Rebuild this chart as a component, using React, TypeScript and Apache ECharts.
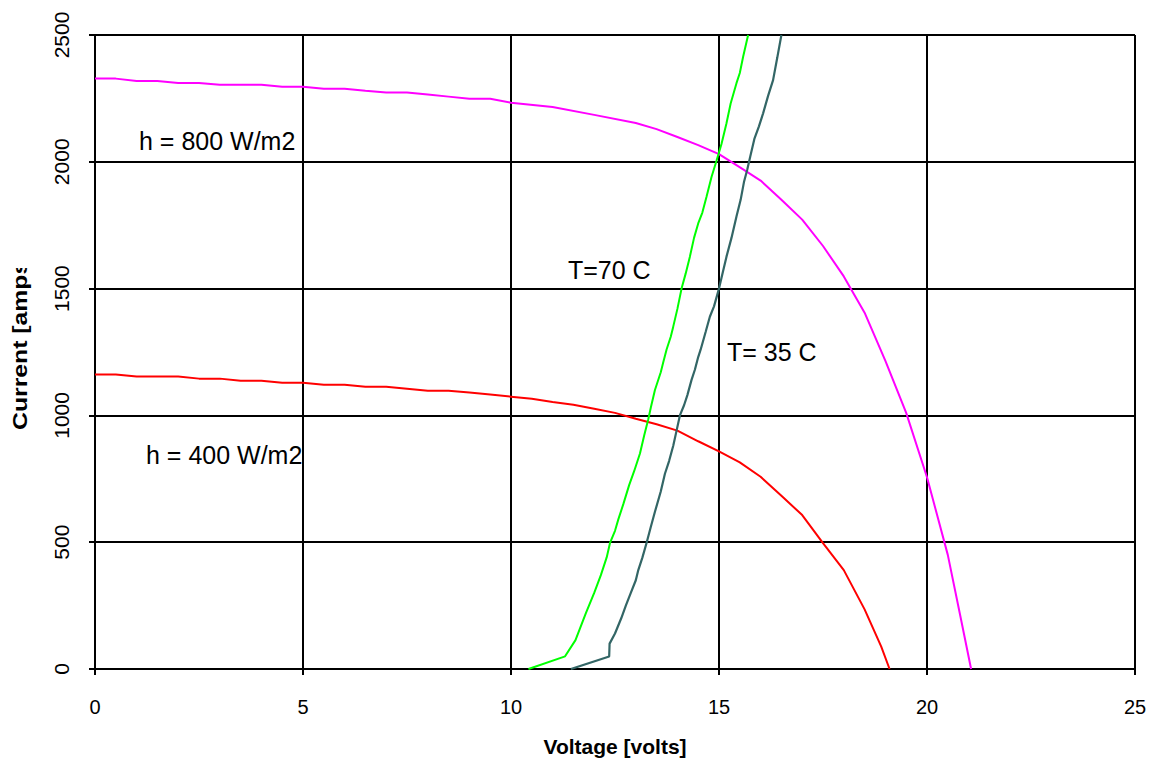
import React, { useEffect, useRef } from "react";
import * as echarts from "echarts";

// Voltage [volts], Current [amps]
const h800T35: [number, number][] = [
  [0, 2328], [0.5, 2328], [1, 2319], [1.5, 2319], [2, 2311], [2.5, 2311], [3, 2304], [4, 2304],
  [4.5, 2296], [5, 2296], [5.5, 2288], [6, 2288], [6.5, 2280], [7, 2273], [7.5, 2273], [8, 2265],
  [8.5, 2257], [9, 2249], [9.5, 2249], [10, 2233], [11, 2216], [12, 2185], [13, 2153], [13.5, 2129],
  [14, 2098], [14.5, 2066], [15, 2030], [15.6, 1968], [16, 1926], [16.5, 1850], [17, 1772],
  [17.5, 1668], [18, 1548], [18.5, 1405], [19, 1215], [19.5, 1010], [20, 756], [20.5, 450],
  [20.8, 210], [21.06, 0],
];

const h400T35: [number, number][] = [
  [0, 1161], [0.5, 1161], [1, 1153], [2, 1153], [2.5, 1145], [3, 1145], [3.5, 1137], [4, 1137],
  [4.5, 1129], [5, 1129], [5.5, 1121], [6, 1121], [6.5, 1113], [7, 1113], [7.5, 1105], [8, 1097],
  [8.5, 1097], [9, 1090], [9.5, 1082], [10, 1074], [10.5, 1066], [11, 1053], [11.5, 1042],
  [12, 1026], [12.5, 1010], [13, 987], [13.5, 965], [14, 940], [14.5, 898], [15, 858], [15.5, 815],
  [16, 758], [16.5, 683], [17, 607], [17.5, 496], [18, 390], [18.5, 235], [18.9, 88], [19.1, 0],
];

const mppT70: [number, number][] = [
  [10.42, 0], [11.3, 50], [11.55, 114], [11.8, 220], [12.0, 300], [12.16, 370], [12.3, 440],
  [12.38, 497], [12.5, 545], [12.58, 590], [12.7, 650], [12.84, 725], [12.96, 780], [13.1, 850],
  [13.2, 920], [13.3, 985], [13.36, 1030], [13.46, 1100], [13.6, 1170], [13.66, 1210],
  [13.74, 1260], [13.84, 1310], [13.9, 1350], [14.0, 1420], [14.1, 1500], [14.2, 1560],
  [14.3, 1626], [14.4, 1700], [14.5, 1757], [14.6, 1800], [14.7, 1862], [14.82, 1940],
  [14.94, 2004], [15.06, 2070], [15.18, 2152], [15.28, 2230], [15.42, 2310], [15.5, 2350],
  [15.58, 2414], [15.7, 2500],
];

const mppT35: [number, number][] = [
  [11.44, 0], [12.36, 49], [12.37, 100], [12.5, 140], [12.65, 200], [12.76, 250], [12.88, 300],
  [13.0, 350], [13.06, 390], [13.16, 440], [13.26, 498], [13.36, 560], [13.46, 620], [13.6, 700],
  [13.7, 770], [13.8, 820], [13.9, 880], [13.98, 940], [14.06, 1000], [14.16, 1040],
  [14.24, 1080], [14.34, 1140], [14.42, 1180], [14.5, 1230], [14.56, 1260], [14.68, 1330],
  [14.78, 1389], [14.88, 1430], [15, 1500], [15.1, 1570], [15.18, 1626], [15.3, 1700],
  [15.42, 1784], [15.52, 1850], [15.6, 1920], [15.68, 1970], [15.75, 2020], [15.85, 2090],
  [15.96, 2140], [16.06, 2191], [16.18, 2260], [16.3, 2322], [16.4, 2410], [16.5, 2500],
];

const xTicks = [0, 5, 10, 15, 20, 25];
const yTicks = [0, 500, 1000, 1500, 2000, 2500];
const xTitle = "Voltage [volts]";
const yTitle = "Current [amps]";
const labels = [
  { text: "h = 800 W/m2", x: 139, y: 141 },
  { text: "h = 400 W/m2", x: 146, y: 455 },
  { text: "T=70 C", x: 568, y: 270 },
  { text: "T= 35 C", x: 727, y: 352 },
];

const FONT = "'Liberation Sans', Arial, sans-serif";

export default function App() {
  const ref = useRef<HTMLDivElement>(null);
  useEffect(() => {
    if (!ref.current) return;
    const chart = echarts.init(ref.current, undefined, { renderer: "svg" });
    const line = (data: [number, number][], color: string, width: number) => ({
      type: "line",
      data,
      showSymbol: false,
      symbol: "none",
      lineStyle: { color, width },
      clip: true,
      z: 3,
    });
    chart.setOption({
      animation: false,
      backgroundColor: "#ffffff",
      grid: { left: 95, top: 35, right: 16, bottom: 92, outerBoundsMode: "none", containLabel: false },
      xAxis: {
        type: "value",
        min: xTicks[0],
        max: xTicks[xTicks.length - 1],
        interval: xTicks[1] - xTicks[0],
        name: xTitle,
        nameLocation: "middle",
        nameGap: 67,
        nameTextStyle: { fontFamily: FONT, fontWeight: "bold", fontSize: 21, color: "#000" },
        axisLine: { lineStyle: { color: "#000", width: 2 } },
        axisTick: { show: true, length: 6, lineStyle: { color: "#000", width: 2 } },
        axisLabel: { fontFamily: FONT, fontSize: 20, color: "#000", margin: 28 },
        splitLine: { show: true, lineStyle: { color: "#000", width: 2 } },
      },
      yAxis: {
        type: "value",
        min: yTicks[0],
        max: yTicks[yTicks.length - 1],
        interval: yTicks[1] - yTicks[0],
        axisLine: { show: true, lineStyle: { color: "#000", width: 2 } },
        axisTick: { show: true, length: 6, lineStyle: { color: "#000", width: 2 } },
        axisLabel: {
          fontFamily: FONT,
          fontSize: 21,
          color: "#000",
          rotate: 90,
          margin: 23,
          formatter: (v: number) => String(v),
        },
        splitLine: { show: true, lineStyle: { color: "#000", width: 2 } },
      },
      graphic: [
        {
          type: "rect",
          shape: { x: 1134, y: 35, width: 2, height: 634 },
          style: { fill: "#000" },
          z: 2,
        },
        {
          type: "text",
          x: 20,
          y: 430,
          rotation: Math.PI / 2,
          scaleX: 1.18,
          style: {
            text: yTitle,
            font: `bold 21px ${FONT}`,
            fill: "#000",
            textAlign: "left",
            textVerticalAlign: "middle",
          },
        },
        {
          type: "rect",
          shape: { x: 0, y: 0, width: 45, height: 268 },
          style: { fill: "#fff" },
          z: 10,
        },
        ...labels.map((l) => ({
          type: "text",
          x: l.x,
          y: l.y,
          style: {
            text: l.text,
            font: `25px ${FONT}`,
            fill: "#000",
            textAlign: "left",
            textVerticalAlign: "middle",
          },
          z: 5,
        })),
      ],
      series: [
        line(h800T35, "#FF00FF", 2),
        line(h400T35, "#FF0000", 2),
        line(mppT70, "#00FF00", 2),
        line(mppT35, "#336666", 2.2),
      ],
    });
    return () => chart.dispose();
  }, []);
  return (
    <div
      ref={ref}
      style={{ position: "fixed", left: 0, top: 0, width: 1151, height: 761, background: "#fff" }}
    />
  );
}
